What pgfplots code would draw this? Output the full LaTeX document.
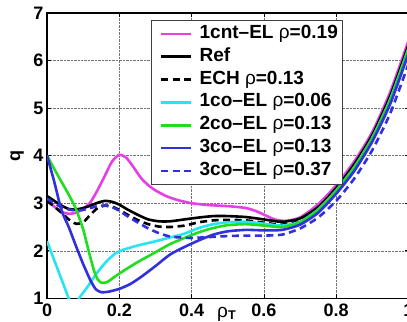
\documentclass[border=0pt]{standalone}
\usepackage{pgfplots}
\pgfplotsset{compat=1.18}
\usepackage{fontspec}
\setmainfont{Liberation Sans}
\definecolor{cmag}{RGB}{228,64,228}
\definecolor{ccyan}{RGB}{40,228,240}
\definecolor{cgreen}{RGB}{30,222,30}
\definecolor{cblue}{RGB}{48,48,222}
\begin{document}
\begin{tikzpicture}
\begin{axis}[name=ax, scale only axis, width=361pt, height=285pt,
  xmin=0, xmax=1, ymin=1, ymax=7,
  xtick={0,0.2,0.4,0.6,0.8,1}, xticklabels={0,0.2,0.4,0.6,0.8,1},
  ytick={1,2,3,4,5,6,7}, yticklabels={1,2,3,4,5,6,7},
  tick align=inside, major tick length=4pt,
  tick style={black, line width=0.8pt},
  axis line style={line width=1.5pt},
  grid=major, grid style={densely dotted, black!55, line width=0.6pt},
  tick label style={font=\fontsize{18}{18}\selectfont\bfseries},
  xticklabel style={yshift=-2pt},
  yticklabel style={xshift=0pt},
  ylabel={q}, ylabel style={font=\fontsize{18}{18}\selectfont\bfseries, at={(rel axis cs:0,0.5)}, anchor=center, yshift=30pt},
  xlabel={{\mdseries\fontsize{19}{19}\selectfont ρ}\textsubscript{T}}, xlabel style={font=\fontsize{18}{18}\selectfont\bfseries, at={(rel axis cs:0.497,0)}, anchor=north, yshift=-5pt},
  legend cell align=left,
  legend image code/.code={\path (-6pt,0pt) (35pt,0pt); \draw[#1] (0pt,0pt) -- (30pt,0pt);},
  legend style={at={(rel axis cs:0.288,0.975)}, anchor=north west, draw=black!75, line width=0.6pt,
    font=\fontsize{19}{19}\selectfont\bfseries, inner sep=2.5pt, row sep=0.8pt,
    nodes={inner sep=2pt, text height=13.5pt, text depth=4.5pt}},
  every axis plot/.append style={line width=2.6pt, smooth, tension=0.4},
]
\addplot[cmag] coordinates {(0,3.05) (0.02,2.93) (0.04,2.82) (0.06,2.78) (0.08,2.8) (0.1,2.88) (0.12,3.02) (0.14,3.28) (0.16,3.58) (0.18,3.88) (0.2,4.02) (0.22,3.95) (0.24,3.75) (0.26,3.53) (0.28,3.38) (0.3,3.27) (0.33,3.15) (0.36,3.07) (0.4,3.0) (0.45,2.96) (0.5,2.94) (0.55,2.9) (0.58,2.83) (0.6,2.76) (0.63,2.66) (0.66,2.63) (0.7,2.7) (0.75,2.98) (0.8,3.38) (0.85,3.88) (0.9,4.5) (0.95,5.35) (1.0,6.42)};
\addlegendentry{1cnt–EL {\mdseries ρ}=0.19}
\addplot[black] coordinates {(0,3.15) (0.02,3.05) (0.04,2.95) (0.06,2.88) (0.08,2.87) (0.1,2.9) (0.12,2.95) (0.14,3.01) (0.16,3.05) (0.18,3.03) (0.2,2.97) (0.22,2.88) (0.25,2.76) (0.28,2.66) (0.31,2.62) (0.34,2.62) (0.38,2.66) (0.42,2.7) (0.46,2.73) (0.5,2.73) (0.55,2.71) (0.6,2.66) (0.65,2.61) (0.7,2.68) (0.75,2.92) (0.8,3.32) (0.85,3.82) (0.9,4.44) (0.95,5.27) (1.0,6.33)};
\addlegendentry{Ref}
\addplot[black, dash pattern=on 7pt off 4.5pt] coordinates {(0,3.05) (0.02,2.93) (0.04,2.8) (0.06,2.66) (0.08,2.57) (0.1,2.6) (0.12,2.76) (0.14,2.9) (0.16,2.95) (0.18,2.93) (0.2,2.86) (0.22,2.77) (0.25,2.65) (0.28,2.56) (0.31,2.51) (0.34,2.5) (0.38,2.53) (0.42,2.6) (0.46,2.64) (0.5,2.65) (0.55,2.64) (0.6,2.59) (0.65,2.55) (0.7,2.63) (0.75,2.88) (0.8,3.28) (0.85,3.77) (0.9,4.39) (0.95,5.21) (1.0,6.27)};
\addlegendentry{ECH {\mdseries ρ}=0.13}
\addplot[ccyan] coordinates {(0,2.2) (0.01,2.0) (0.02,1.8) (0.03,1.6) (0.04,1.4) (0.05,1.2) (0.06,1.0) (0.07,0.85) (0.075,0.82) (0.08,0.86) (0.09,1.02) (0.11,1.22) (0.13,1.45) (0.15,1.65) (0.17,1.82) (0.19,1.95) (0.21,2.02) (0.25,2.11) (0.3,2.2) (0.34,2.28) (0.38,2.36) (0.42,2.48) (0.46,2.56) (0.5,2.6) (0.55,2.61) (0.6,2.57) (0.65,2.53) (0.7,2.61) (0.75,2.87) (0.8,3.27) (0.85,3.76) (0.9,4.38) (0.95,5.2) (1.0,6.26)};
\addlegendentry{1co–EL {\mdseries ρ}=0.06}
\addplot[cgreen] coordinates {(0,4.0) (0.02,3.72) (0.04,3.45) (0.06,3.18) (0.08,2.88) (0.1,2.45) (0.115,2.0) (0.13,1.58) (0.14,1.4) (0.15,1.33) (0.16,1.33) (0.17,1.36) (0.19,1.47) (0.22,1.62) (0.25,1.76) (0.3,1.97) (0.34,2.14) (0.38,2.27) (0.42,2.39) (0.46,2.48) (0.5,2.54) (0.55,2.56) (0.6,2.53) (0.65,2.5) (0.7,2.6) (0.75,2.86) (0.8,3.26) (0.85,3.75) (0.9,4.37) (0.95,5.18) (1.0,6.24)};
\addlegendentry{2co–EL {\mdseries ρ}=0.13}
\addplot[cblue] coordinates {(0,4.0) (0.02,3.45) (0.04,2.85) (0.06,2.5) (0.08,2.1) (0.1,1.72) (0.12,1.38) (0.135,1.19) (0.15,1.13) (0.17,1.14) (0.2,1.2) (0.23,1.3) (0.26,1.45) (0.3,1.68) (0.34,1.92) (0.38,2.08) (0.42,2.22) (0.46,2.34) (0.5,2.41) (0.55,2.44) (0.6,2.43) (0.65,2.44) (0.7,2.55) (0.75,2.8) (0.8,3.2) (0.85,3.68) (0.9,4.3) (0.95,5.1) (1.0,6.15)};
\addlegendentry{3co–EL {\mdseries ρ}=0.13}
\addplot[cblue, dash pattern=on 7pt off 4.5pt] coordinates {(0,3.1) (0.02,3.0) (0.04,2.92) (0.06,2.87) (0.08,2.85) (0.1,2.86) (0.12,2.9) (0.14,2.94) (0.16,2.95) (0.18,2.92) (0.2,2.84) (0.22,2.74) (0.25,2.6) (0.28,2.47) (0.31,2.37) (0.34,2.3) (0.37,2.28) (0.4,2.27) (0.45,2.29) (0.5,2.31) (0.55,2.32) (0.6,2.32) (0.65,2.34) (0.7,2.47) (0.75,2.7) (0.8,3.05) (0.85,3.52) (0.9,4.12) (0.95,4.9) (1.0,5.93)};
\addlegendentry{3co–EL {\mdseries ρ}=0.37}
\end{axis}
\pgfresetboundingbox
\path[use as bounding box] ([xshift=-47pt,yshift=-23pt]ax.south west) rectangle ([xshift=-1.5pt,yshift=13pt]ax.north east);
\end{tikzpicture}
\end{document}
